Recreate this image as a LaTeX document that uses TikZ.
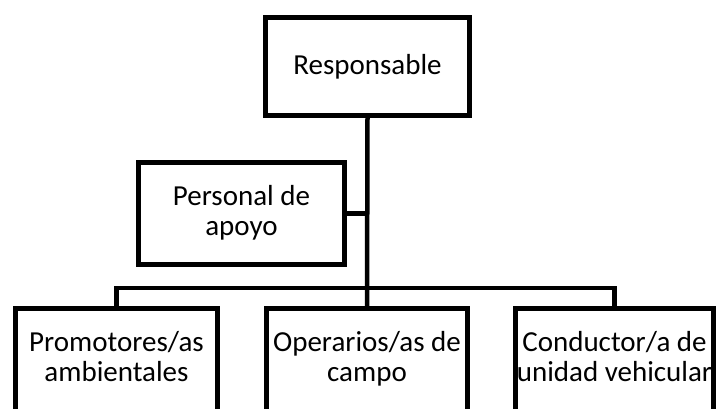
\documentclass[tikz,border=0pt]{standalone}
\usepackage{fontspec}
\setmainfont{Carlito}
\begin{document}
\begin{tikzpicture}[x=1pt,y=-1pt,
  boxstyle/.style={draw=black,line width=5pt,line join=miter,align=center,inner sep=0pt,
    font=\fontsize{29}{30}\selectfont},
  twoline/.style={text height=51pt,text depth=6pt},
  openbox/.style={align=center,inner sep=0pt,minimum height=101.4pt,twoline,
    font=\fontsize{29}{30}\selectfont},
  conn/.style={draw=black,line width=4.5pt,line join=miter}]
\clip (0,0) rectangle (718,409);
\fill[white] (0,0) rectangle (718,409);
% boxes
\node[boxstyle,minimum width=204pt,minimum height=98pt] (r) at (367.5,66.5) {Responsable};
\node[boxstyle,twoline,minimum width=206pt,minimum height=102pt] (p) at (241.5,213.5) {Personal de\\apoyo};
\node[openbox,minimum width=202pt] (b1) at (116.5,359.2) {Promotores/as\\ambientales};
\node[openbox,minimum width=201pt] (b2) at (367,359.2) {Operarios/as de\\campo};
\node[openbox,minimum width=198pt] (b3) at (614.5,359.2) {Conductor/a de\\unidad vehicular};
\foreach \b in {b1,b2,b3}{
  \draw[draw=black,line width=5pt,line join=miter]
    ([yshift=-130pt]\b.north west) -- (\b.north west) -- (\b.north east) -- ([yshift=-130pt]\b.north east);
}
% connectors
\draw[conn] (r.south) -- (b2.north);
\draw[conn] (p.east) -- (p.east -| r.south);
\draw[conn] (b1.north) -- ++(0,-20.5) -| (b3.north);
\end{tikzpicture}
\end{document}
